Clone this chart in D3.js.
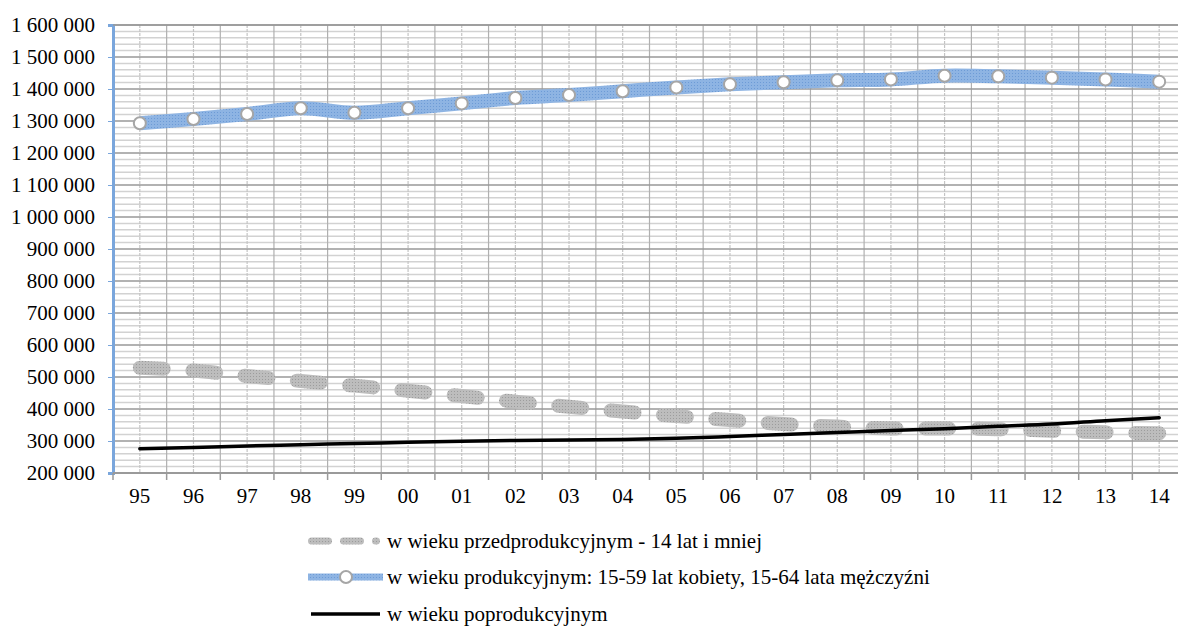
<!DOCTYPE html>
<html lang="pl">
<head>
<meta charset="UTF-8">
<title>Ludność według ekonomicznych grup wieku</title>
<script src="https://d3js.org/d3.v7.min.js"></script>
<style>
  body { margin: 0; background: #fff; }
  svg, svg text { font-family: "Liberation Serif", "Times New Roman", serif !important; }
</style>
</head>
<body>
<div id="chart"></div>
<script>
    const years = ["95","96","97","98","99","00","01","02","03","04","05","06","07","08","09","10","11","12","13","14"];
    // w wieku przedprodukcyjnym
    const przed = [529000, 520000, 503000, 487500, 473000, 457000, 440500, 423000, 407000, 392000, 378000, 365500, 353000, 345000, 339000, 339000, 337000, 332000, 327000, 324000];
    // w wieku produkcyjnym
    const prod = [1293000, 1306000, 1322000, 1340000, 1326000, 1340000, 1355000, 1372000, 1381000, 1393000, 1405000, 1414500, 1421000, 1427000, 1430000, 1441500, 1439500, 1435500, 1430000, 1423000];
    // w wieku poprodukcyjnym
    const po = [276000, 280000, 284500, 288500, 292000, 296000, 299500, 301500, 303000, 305000, 308500, 314000, 320500, 326500, 333000, 338500, 346000, 353000, 363500, 373000];
    const yTicks = [200000, 300000, 400000, 500000, 600000, 700000, 800000, 900000, 1000000, 1100000, 1200000, 1300000, 1400000, 1500000, 1600000];
    const legendLabels = [
        "w wieku przedprodukcyjnym - 14 lat i mniej",
        "w wieku produkcyjnym: 15-59 lat kobiety, 15-64 lata mężczyźni",
        "w wieku poprodukcyjnym"
    ];

    const W = 1178, H = 626;
    const plot = { left: 113, right: 1186, top: 25, bottom: 473 };
    const FONT = "'Liberation Serif', 'Times New Roman', serif";
    const FS = 21;

    const svg = d3.select("#chart").append("svg")
        .attr("width", W).attr("height", H);

    const defs = svg.append("defs");
    function dotPattern(id, base, dot) {
        const p = defs.append("pattern").attr("id", id)
            .attr("patternUnits", "userSpaceOnUse")
            .attr("width", 3).attr("height", 3);
        p.append("rect").attr("width", 3).attr("height", 3).attr("fill", base);
        p.append("rect").attr("x", 1).attr("y", 1).attr("width", 1).attr("height", 1).attr("fill", dot);
    }
    dotPattern("pBlue", "#8eb4e3", "#6d9bd6");
    dotPattern("pGray", "#bdbdbd", "#9c9c9c");

    const x = d3.scaleBand().domain(years).range([plot.left, plot.right]);
    const cx = d => x(d) + x.bandwidth() / 2;
    const y = d3.scaleLinear().domain([200000, 1600000]).range([plot.bottom, plot.top]);

    defs.append("clipPath").attr("id", "clip")
        .append("rect").attr("x", plot.left).attr("y", 0)
        .attr("width", W - plot.left).attr("height", H);

    const grid = svg.append("g");
    // minor horizontal gridlines every 20 000
    const minor = d3.range(200000, 1600001, 20000).filter(v => v % 100000 !== 0);
    grid.selectAll("line.hmin").data(minor).join("line")
        .attr("x1", plot.left).attr("x2", W)
        .attr("y1", d => y(d)).attr("y2", d => y(d))
        .attr("stroke", "#d2d2d2").attr("stroke-width", 1.5);
    // vertical gridlines: category centres (light) and boundaries (darker)
    grid.selectAll("line.vc").data(years).join("line")
        .attr("x1", d => cx(d)).attr("x2", d => cx(d))
        .attr("y1", plot.top).attr("y2", plot.bottom)
        .attr("stroke", "#c4c4c4").attr("stroke-width", 1.2)
        .attr("stroke-dasharray", "3 1");
    grid.selectAll("line.vb").data(years.slice(1)).join("line")
        .attr("x1", d => x(d)).attr("x2", d => x(d))
        .attr("y1", plot.top).attr("y2", plot.bottom)
        .attr("stroke", "#b0b0b0").attr("stroke-width", 1.2);
    // major horizontal gridlines
    grid.selectAll("line.hmaj").data(yTicks.slice(1)).join("line")
        .attr("x1", plot.left).attr("x2", W)
        .attr("y1", d => y(d)).attr("y2", d => y(d))
        .attr("stroke", "#999").attr("stroke-width", 1.5);

    // y axis
    const fmt = v => d3.format(",")(v).replace(/,/g, " ");
    const yAxis = svg.append("g")
        .attr("transform", `translate(${plot.left},0)`)
        .call(d3.axisLeft(y).tickValues(yTicks).tickFormat(fmt).tickSize(5).tickPadding(13))
        .attr("font-family", FONT);
    yAxis.select(".domain").attr("stroke", "#7aa6dc").attr("stroke-width", 3);
    yAxis.selectAll(".tick line").attr("stroke", "#7aa6dc");
    yAxis.selectAll(".tick text").attr("font-size", FS).attr("fill", "#000");

    // x axis
    const xAxis = svg.append("g")
        .attr("transform", `translate(0,${plot.bottom})`)
        .call(d3.axisBottom(x).tickSize(0).tickPadding(15))
        .attr("font-family", FONT);
    xAxis.select(".domain").remove();
    xAxis.selectAll(".tick text").attr("font-size", FS).attr("fill", "#000");
    svg.append("line")
        .attr("x1", plot.left).attr("x2", W)
        .attr("y1", plot.bottom).attr("y2", plot.bottom)
        .attr("stroke", "#9a9a9a").attr("stroke-width", 2);
    svg.selectAll("line.xt").data(years).join("line")
        .attr("x1", d => x(d)).attr("x2", d => x(d))
        .attr("y1", plot.bottom).attr("y2", plot.bottom + 7)
        .attr("stroke", "#9a9a9a").attr("stroke-width", 1.5);

    const line = d3.line().x((d, i) => cx(years[i])).y(d => y(d)).curve(d3.curveCatmullRom);
    const series = svg.append("g").attr("clip-path", "url(#clip)");

    const dashPath = series.append("path").attr("d", line(przed))
        .attr("fill", "none").attr("stroke", "url(#pGray)")
        .attr("stroke-width", 14).attr("stroke-linecap", "round");
    // one dash per year, first starting at 95 and last ending at 14
    const L = dashPath.node().getTotalLength();
    const dash = 24, gap = (L - dash * years.length) / (years.length - 1);
    dashPath.attr("stroke-dasharray", `${dash} ${gap}`);

    series.append("path").attr("d", line(prod))
        .attr("fill", "none").attr("stroke", "url(#pBlue)")
        .attr("stroke-width", 14);
    series.selectAll("circle.m").data(prod).join("circle")
        .attr("cx", (d, i) => cx(years[i])).attr("cy", d => y(d)).attr("r", 6)
        .attr("fill", "#fff").attr("stroke", "#a6a6a6").attr("stroke-width", 2);

    series.append("path").attr("d", line(po))
        .attr("fill", "none").attr("stroke", "#000")
        .attr("stroke-width", 3.5).attr("stroke-linecap", "round");

    // legend
    const lg = svg.append("g").attr("font-family", FONT);
    const rows = [541, 577, 614];
    lg.append("line").attr("x1", 311.5).attr("x2", 376.5).attr("y1", rows[0]).attr("y2", rows[0])
        .attr("stroke", "url(#pGray)").attr("stroke-width", 7).attr("stroke-linecap", "round")
        .attr("stroke-dasharray", "17 15");
    lg.append("line").attr("x1", 308).attr("x2", 383).attr("y1", rows[1]).attr("y2", rows[1])
        .attr("stroke", "url(#pBlue)").attr("stroke-width", 7);
    lg.append("circle").attr("cx", 346).attr("cy", rows[1]).attr("r", 6)
        .attr("fill", "#fff").attr("stroke", "#a6a6a6").attr("stroke-width", 2);
    lg.append("line").attr("x1", 311).attr("x2", 380).attr("y1", rows[2]).attr("y2", rows[2])
        .attr("stroke", "#000").attr("stroke-width", 3.5);
    lg.selectAll("text").data(legendLabels).join("text")
        .attr("x", 387).attr("y", (d, i) => rows[i]).attr("dy", "0.35em")
        .attr("font-size", FS).text(d => d);

    // top border
    svg.append("line").attr("x1", plot.left).attr("x2", W)
        .attr("y1", plot.top).attr("y2", plot.top)
        .attr("stroke", "#999").attr("stroke-width", 1.5);
</script>
</body>
</html>
